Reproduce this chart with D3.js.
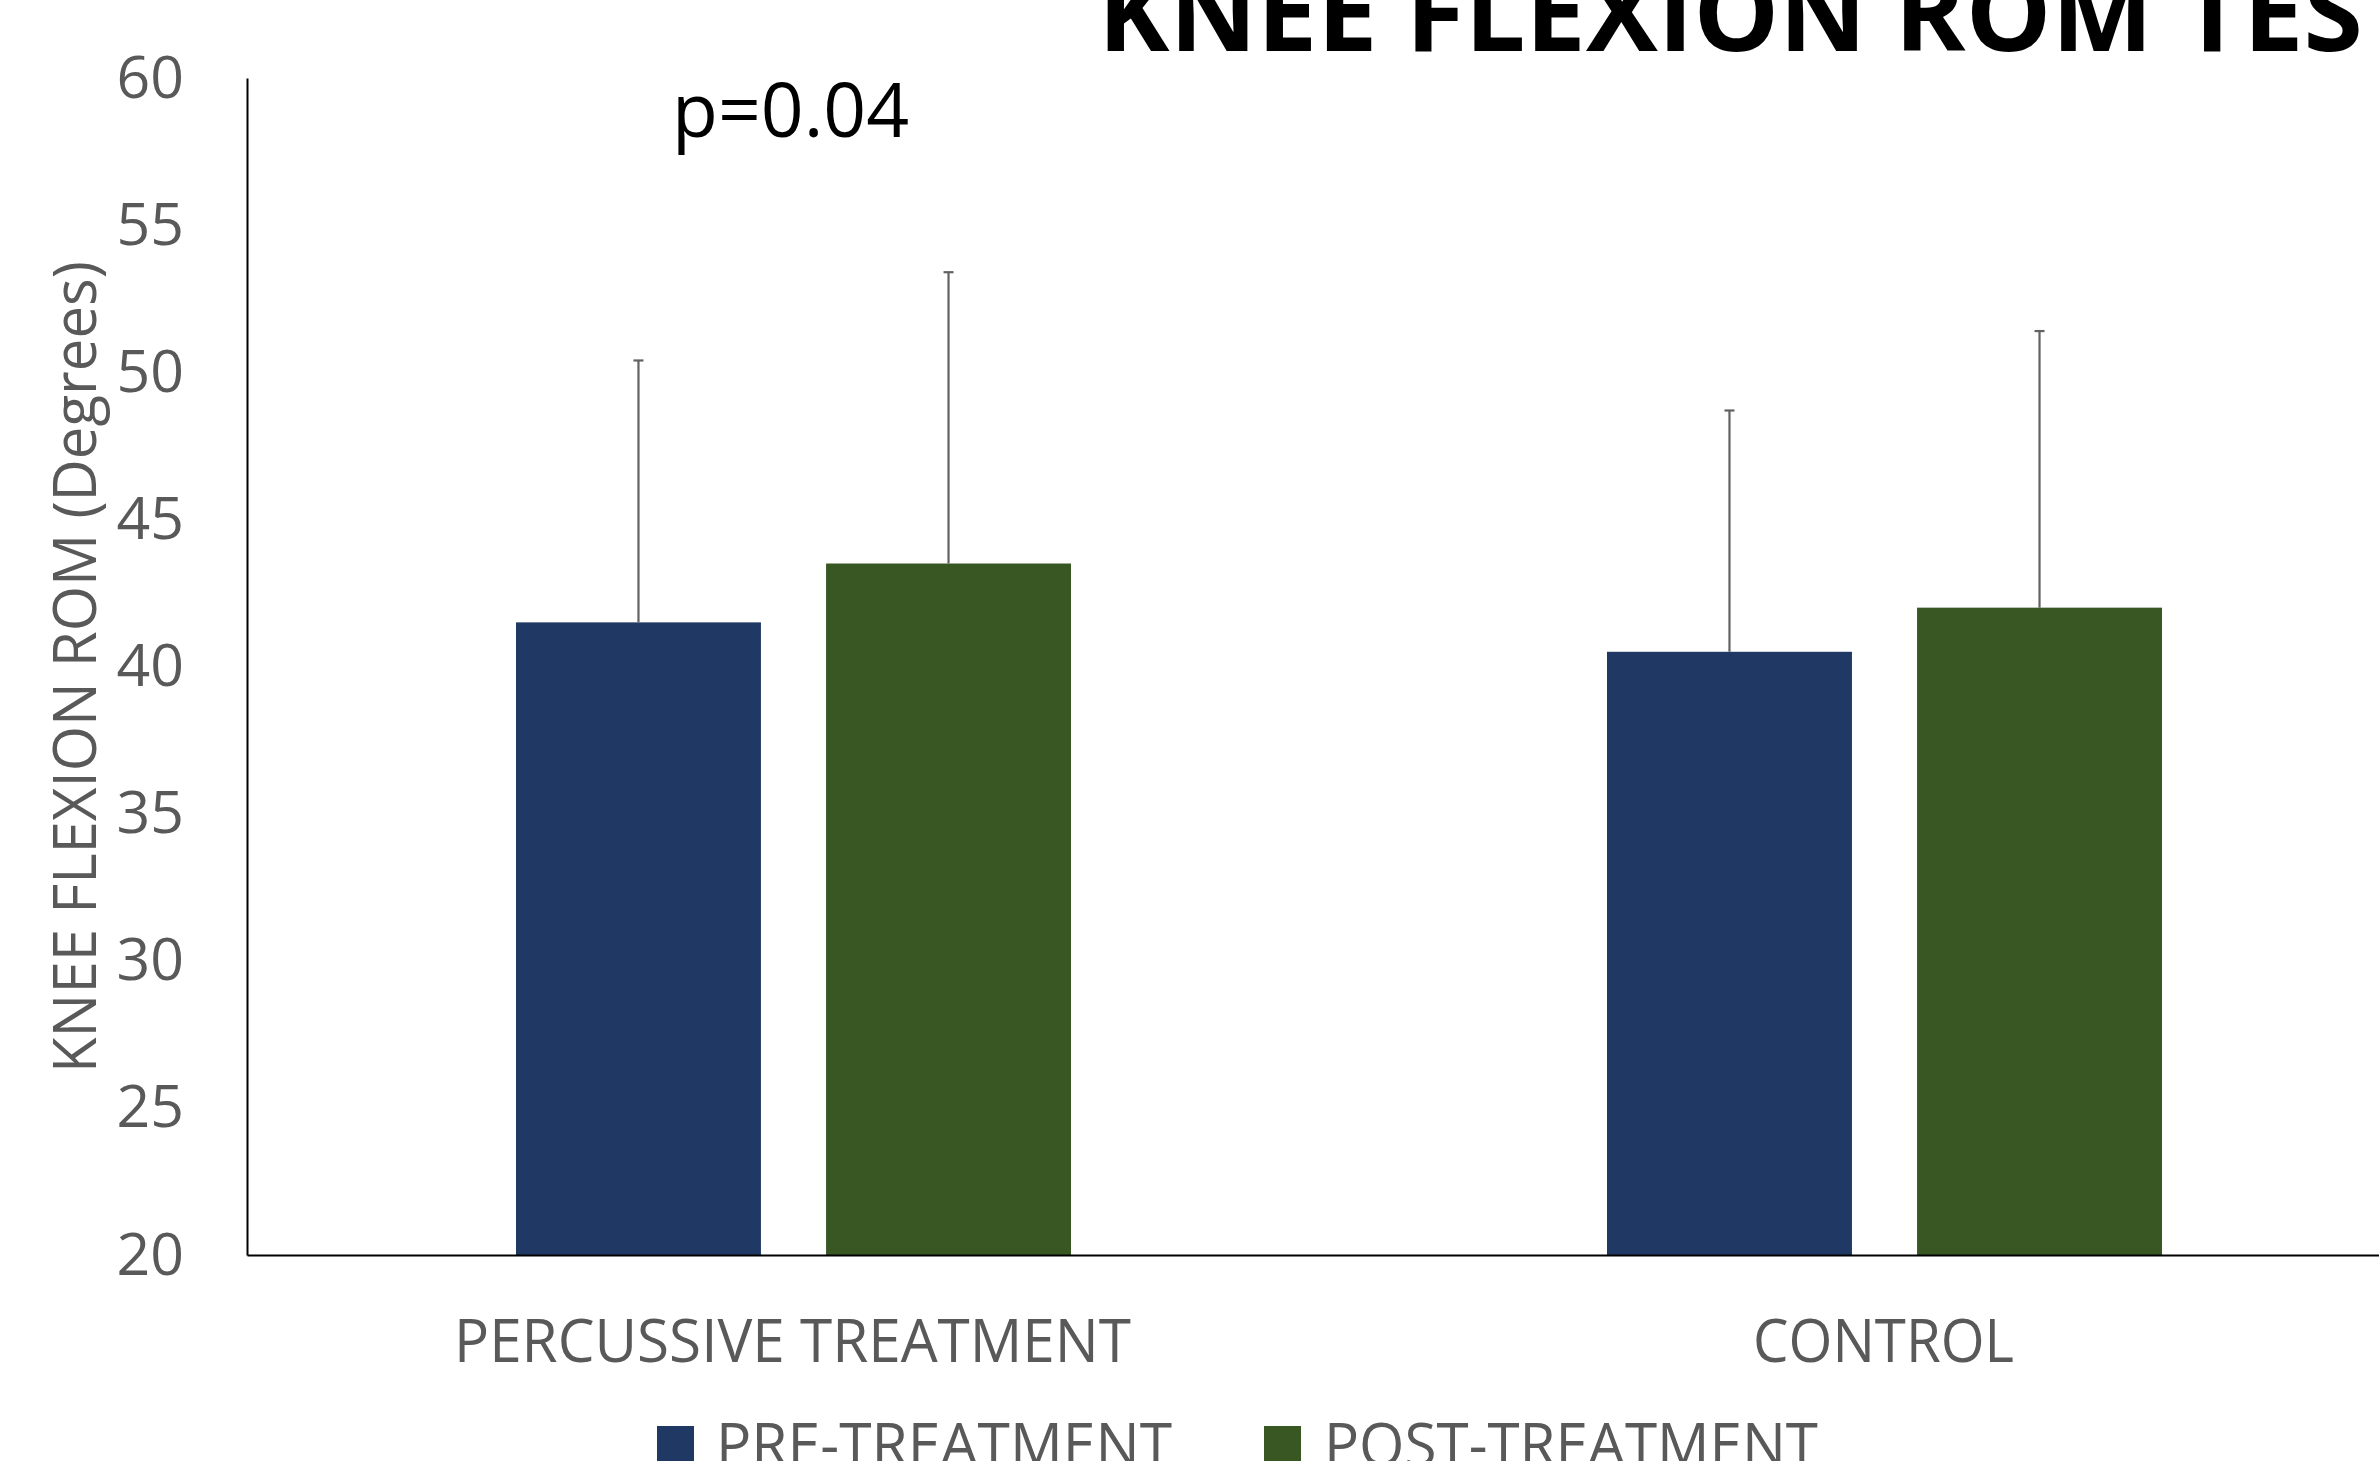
<!DOCTYPE html>
<html>
<head>
<meta charset="utf-8">
<script src="https://cdn.jsdelivr.net/npm/d3@7"></script>
<style>
  html, body { margin: 0; padding: 0; background: #fff; overflow: hidden; }
  svg { display: block; font-family: "Open Sans", sans-serif; }
</style>
</head>
<body>
<div id="chart"></div>
<script>
// chart values
var categories = ["PERCUSSIVE TREATMENT", "CONTROL"];
var series = ["PRE-TREATMENT", "POST-TREATMENT"];
var preMeans = [41.5, 40.5];
var postMeans = [43.5, 42.0];
var preSD = [8.9, 8.2];
var postSD = [9.9, 9.4];
var yTicks = [20, 25, 30, 35, 40, 45, 50, 55, 60];
var titleText = "KNEE FLEXION ROM TEST";
var yLabel = "KNEE FLEXION ROM (Degrees)";
var pText = "p=0.04";

var colors = {"PRE-TREATMENT": "#203864", "POST-TREATMENT": "#385723"};
var textGrey = "#595959";

var W = 2379, H = 1461;
// the plot runs on past the right edge of the picture
var plot = {left: 247, top: 78, bottom: 1255, right: 2429};

var svg = d3.select("#chart")
  .append("svg")
    .attr("width", W)
    .attr("height", H);

// scales
var y = d3.scaleLinear()
  .domain([20, 60])
  .range([plot.bottom, plot.top]);

var x0 = d3.scaleBand()
  .domain(categories)
  .range([plot.left, plot.right]);

var x1 = d3.scaleBand()
  .domain(series)
  .range([269, 824])
  .paddingInner(0.21);

var rows = categories.map(function(c, i) {
  return [
    {cat: c, s: series[0], v: preMeans[i], sd: preSD[i]},
    {cat: c, s: series[1], v: postMeans[i], sd: postSD[i]}
  ];
});
var flat = [].concat.apply([], rows);

// bars
svg.append("g")
  .selectAll("rect")
  .data(flat)
  .enter()
  .append("rect")
    .attr("x", function(d) { return x0(d.cat) + x1(d.s); })
    .attr("y", function(d) { return y(d.v); })
    .attr("width", x1.bandwidth())
    .attr("height", function(d) { return y(20) - y(d.v); })
    .attr("fill", function(d) { return colors[d.s]; });

// error bars (upper only)
var eb = svg.append("g")
  .attr("stroke", "#626262")
  .attr("stroke-width", 2.2);
flat.forEach(function(d) {
  var cx = x0(d.cat) + x1(d.s) + x1.bandwidth() / 2;
  eb.append("line")
    .attr("x1", cx).attr("x2", cx)
    .attr("y1", y(d.v)).attr("y2", y(d.v + d.sd));
  eb.append("line")
    .attr("x1", cx - 5).attr("x2", cx + 5)
    .attr("y1", y(d.v + d.sd)).attr("y2", y(d.v + d.sd));
});

// Y axis
var yAxis = svg.append("g")
  .attr("transform", "translate(" + plot.left + ",0)")
  .call(d3.axisLeft(y).tickValues(yTicks).tickSize(0).tickPadding(63));
yAxis.select(".domain").attr("stroke", "#000").attr("stroke-width", 2);
yAxis.selectAll("text")
  .attr("font-family", "Open Sans")
  .attr("font-size", 59)
  .attr("fill", textGrey)
  .attr("dy", 19);

// X axis
var xAxis = svg.append("g")
  .attr("transform", "translate(0," + plot.bottom + ")")
  .call(d3.axisBottom(x0).tickSize(0).tickSizeOuter(0));
xAxis.select(".domain").attr("stroke", "#000").attr("stroke-width", 2);
var xLabelLen = {"PERCUSSIVE TREATMENT": 677, "CONTROL": 261};
xAxis.selectAll("text")
  .attr("font-family", "Open Sans")
  .attr("font-size", 61)
  .attr("fill", textGrey)
  .attr("y", 107)
  .attr("dy", 0)
  .attr("textLength", function(d) { return xLabelLen[d]; })
  .attr("lengthAdjust", "spacingAndGlyphs");

// Y axis title
svg.append("text")
  .attr("transform", "translate(96," + 667 + ") rotate(-90)")
  .attr("text-anchor", "middle")
  .attr("font-size", 61)
  .attr("fill", textGrey)
  .attr("textLength", 812)
  .attr("lengthAdjust", "spacingAndGlyphs")
  .text(yLabel);

// p value
svg.append("text")
  .attr("x", 672)
  .attr("y", 137)
  .attr("font-size", 75)
  .attr("fill", "#000")
  .text(pText);

// chart title (cropped by the top and right edges in the original)
var title = svg.append("text")
  .attr("x", 1098)
  .attr("y", 51)
  .attr("font-weight", "bold")
  .attr("font-size", 100)
  .attr("fill", "#000")
  .text(titleText);
var seen = title.node().getSubStringLength(0, 20);
title.attr("font-size", 100 * 1265 / seen);

// legend
var legendPos = [
  {sx: 657, tx: 716, len: 456},
  {sx: 1264, tx: 1324, len: 494}
];
var legend = svg.append("g");
series.forEach(function(s, i) {
  legend.append("rect")
    .attr("x", legendPos[i].sx)
    .attr("y", 1426)
    .attr("width", 37)
    .attr("height", 37)
    .attr("fill", colors[s]);
  legend.append("text")
    .attr("x", legendPos[i].tx)
    .attr("y", 1466)
    .attr("font-size", 61)
    .attr("fill", textGrey)
    .attr("textLength", legendPos[i].len)
    .attr("lengthAdjust", "spacingAndGlyphs")
    .text(s);
});
</script>
</body>
</html>
